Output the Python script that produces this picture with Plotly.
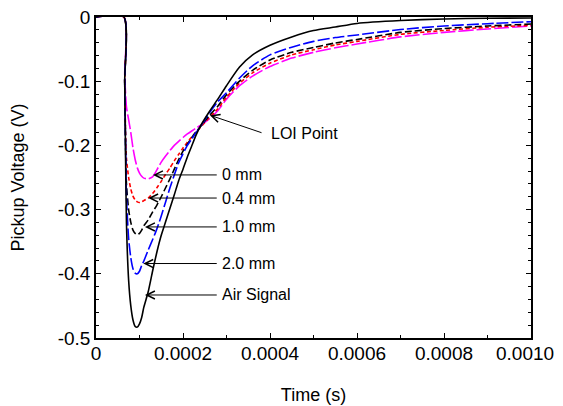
import plotly.graph_objects as go

# time axis (s)
time_s = [0, 0.000064, 0.000066, 0.000068, 0.00007, 0.000075, 0.00008, 0.000085, 0.00009,
          0.000095, 0.0001, 0.000105, 0.00011, 0.00012, 0.00013, 0.00014, 0.00015, 0.00016,
          0.00017, 0.00018, 0.00019, 0.0002, 0.00021, 0.00022, 0.00023, 0.00024, 0.00026,
          0.00028, 0.0003, 0.00033, 0.00036, 0.0004, 0.00045, 0.0005, 0.00055, 0.0006,
          0.0007, 0.0008, 0.0009, 0.001]

air_signal = [0, 0, -0.10, -0.22, -0.32, -0.41, -0.45, -0.472, -0.482, -0.483, -0.478, -0.468,
              -0.452, -0.428, -0.396, -0.366, -0.340, -0.319, -0.298, -0.277, -0.255, -0.237,
              -0.218, -0.201, -0.184, -0.170, -0.148, -0.128, -0.107, -0.078, -0.059, -0.044,
              -0.031, -0.021, -0.0156, -0.010, -0.0055, -0.003, -0.002, -0.0015]

mm_2_0 = [0, 0, -0.10, -0.20, -0.28, -0.345, -0.375, -0.392, -0.399, -0.400, -0.396, -0.387,
          -0.380, -0.363, -0.347, -0.330, -0.310, -0.288, -0.266, -0.246, -0.227, -0.213,
          -0.200, -0.190, -0.180, -0.171, -0.150, -0.132, -0.118, -0.095, -0.076, -0.059,
          -0.047, -0.038, -0.032, -0.028, -0.0195, -0.014, -0.0104, -0.0073]

mm_1_0 = [0, 0, -0.10, -0.20, -0.26, -0.30, -0.32, -0.332, -0.337, -0.339, -0.337, -0.332,
          -0.325, -0.316, -0.304, -0.293, -0.280, -0.266, -0.252, -0.237, -0.222, -0.209,
          -0.198, -0.188, -0.179, -0.171, -0.154, -0.139, -0.121, -0.100, -0.083, -0.067,
          -0.055, -0.0475, -0.0405, -0.035, -0.024, -0.018, -0.014, -0.011]

mm_0_4 = [0, 0, -0.10, -0.18, -0.22, -0.25, -0.268, -0.279, -0.285, -0.288, -0.289, -0.288,
          -0.286, -0.282, -0.275, -0.266, -0.256, -0.245, -0.235, -0.224, -0.214, -0.204,
          -0.195, -0.187, -0.179, -0.172, -0.157, -0.143, -0.125, -0.103, -0.087, -0.072,
          -0.059, -0.051, -0.0436, -0.038, -0.027, -0.021, -0.016, -0.013]

mm_0 = [0, 0, -0.09, -0.12, -0.14, -0.16, -0.18, -0.204, -0.222, -0.235, -0.243, -0.248,
        -0.251, -0.252, -0.249, -0.238, -0.226, -0.2165, -0.208, -0.200, -0.1936, -0.1877,
        -0.1822, -0.1776, -0.173, -0.1687, -0.159, -0.146, -0.128, -0.107, -0.092, -0.077,
        -0.064, -0.055, -0.048, -0.042, -0.031, -0.024, -0.0187, -0.014]

x_tickvals = [0, 0.0002, 0.0004, 0.0006, 0.0008, 0.001]
x_ticktext = ["0", "0.0002", "0.0004", "0.0006", "0.0008", "0.0010"]
y_tickvals = [0, -0.1, -0.2, -0.3, -0.4, -0.5]
y_ticktext = ["0", "-0.1", "-0.2", "-0.3", "-0.4", "-0.5"]

# label: (text, arrow tip t, arrow tip v, label y)
labels = [("0 mm", 0.000131, -0.246, -0.246),
          ("0.4 mm", 0.000120, -0.282, -0.282),
          ("1.0 mm", 0.0001126, -0.327, -0.327),
          ("2.0 mm", 0.0001087, -0.384, -0.384),
          ("Air Signal", 0.0001126, -0.433, -0.433)]
label_tail_t = 0.000281
label_text_t = 0.000286

FONT = "Liberation Sans, Arial, sans-serif"
TICK_SIZE = 19

fig = go.Figure()
series = [
    (mm_0, "0 mm", "#ff00ff", "15px,3px"),
    (mm_0_4, "0.4 mm", "#ff0000", "4px,2.5px"),
    (mm_1_0, "1.0 mm", "#000000", "7px,3px"),
    (mm_2_0, "2.0 mm", "#0000ff", "12px,3px"),
    (air_signal, "Air Signal", "#000000", "solid"),
]
for vals, name, color, dash in series:
    fig.add_trace(go.Scatter(x=time_s, y=vals, mode="lines", name=name,
                             line=dict(color=color, width=1.6, dash=dash,
                                       shape="spline", smoothing=0.6)))

annotations = []
for text, tt, tv, ly in labels:
    annotations.append(dict(x=tt, y=tv, ax=label_tail_t, ay=ly, xref="x", yref="y",
                            axref="x", ayref="y", text="", showarrow=True,
                            arrowhead=5, arrowsize=1.6, arrowwidth=1, arrowcolor="black"))
    annotations.append(dict(x=label_text_t, y=ly, xref="x", yref="y", text=text,
                            showarrow=False, xanchor="left", yanchor="middle",
                            font=dict(family=FONT, size=16, color="black")))
# LOI point
annotations.append(dict(x=0.000262, y=-0.153, ax=0.000384, ay=-0.181, xref="x", yref="y",
                        axref="x", ayref="y", text="", showarrow=True,
                        arrowhead=5, arrowsize=1.6, arrowwidth=1, arrowcolor="black"))
annotations.append(dict(x=0.000398, y=-0.181, xref="x", yref="y", text="LOI Point",
                        showarrow=False, xanchor="left", yanchor="middle",
                        font=dict(family=FONT, size=16, color="black")))
# last x tick label, nudged left so it stays inside the page
annotations.append(dict(x=x_tickvals[-1], y=-0.5, xref="x", yref="y", text=x_ticktext[-1],
                        showarrow=False, xanchor="center", yanchor="middle",
                        xshift=-6, yshift=-15,
                        font=dict(family=FONT, size=TICK_SIZE, color="black")))
shown_x_ticktext = x_ticktext[:-1] + [""]

axis_common = dict(showgrid=False, zeroline=False, showline=True, linecolor="black",
                   linewidth=1.5, mirror="allticks", ticks="inside", ticklen=5,
                   tickcolor="black", tickwidth=1, automargin=False,
                   ticklabeloverflow="allow",
                   tickfont=dict(family=FONT, size=TICK_SIZE, color="black"))

# page body adds an 8px offset; figure sized/margined to compensate
fig.update_layout(
    width=555, height=398,
    margin=dict(l=88, r=32, t=9, b=68, autoexpand=False),
    paper_bgcolor="white", plot_bgcolor="white",
    showlegend=False,
    annotations=annotations,
    xaxis=dict(range=[0, 0.001], tickvals=x_tickvals, ticktext=shown_x_ticktext,
               ticklabelstandoff=-3,
               title=dict(text="Time (s)", font=dict(family=FONT, size=18, color="black"),
                          standoff=26),
               minor=dict(ticks="inside", ticklen=3, dtick=0.0001, tick0=0,
                          tickcolor="black", tickwidth=1),
               **axis_common),
    yaxis=dict(range=[-0.5, 0], tickvals=y_tickvals, ticktext=y_ticktext,
               title=dict(text="Pickup Voltage (V)", font=dict(family=FONT, size=18, color="black"),
                          standoff=28),
               minor=dict(ticks="inside", ticklen=3, dtick=0.02, tick0=0,
                          tickcolor="black", tickwidth=1),
               **axis_common),
)

fig.write_html("out.html")
